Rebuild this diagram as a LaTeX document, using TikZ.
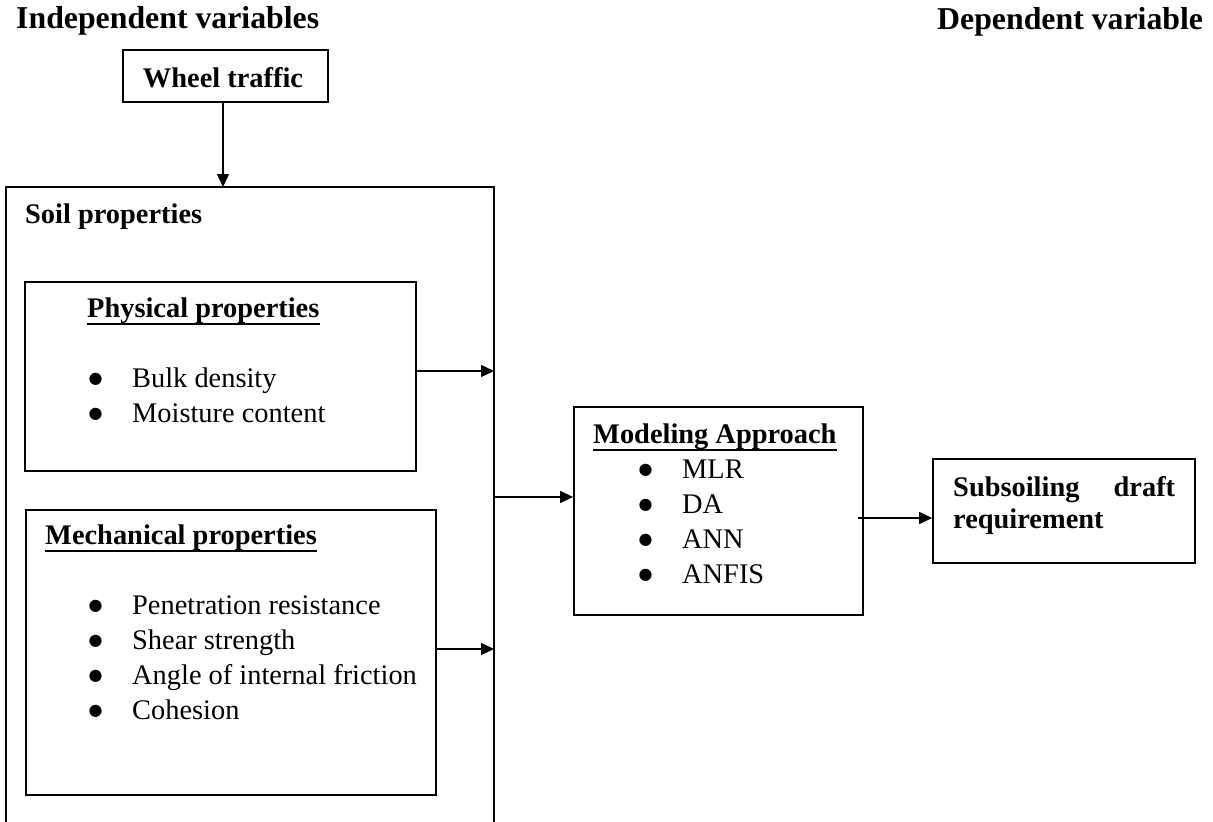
\documentclass[tikz,border=0pt]{standalone}
\usepackage{fontspec}
\setmainfont{Liberation Serif}
\newfontfamily\dotfont{DejaVu Sans}
\usetikzlibrary{arrows.meta}
% one unit = one pixel of the final image, y grows downwards
\newcommand{\bul}{\makebox[44pt][l]{\hspace{0.5pt}\raisebox{4pt}{\dotfont\fontsize{16}{16}\selectfont ●}}}
\begin{document}
\begin{tikzpicture}[x=1pt,y=-1pt,
  box/.style={draw, line width=1.8pt, inner sep=0pt},
  arr/.style={line width=1.3pt, -{Triangle[length=13pt,width=12pt]}},
  txt/.style={inner sep=0pt, anchor=base west, font=\fontsize{28.4}{35.3}\selectfont},
  hdr/.style={txt, font=\fontsize{28.4}{35.3}\selectfont\bfseries},
  ttl/.style={inner sep=0pt, anchor=base west, font=\fontsize{31.8}{38}\selectfont\bfseries},
  uline/.style={line width=1.6pt}]
\useasboundingbox (0,0) rectangle (1213,822);
\fill[white] (0,0) rectangle (1213,822);

% column titles
\node[ttl] (indep) at (16,28) {Independent variables};
\node[ttl] (dep) at (937,29) {Dependent variable};

% wheel traffic
\node[box, minimum width=205pt, minimum height=52pt] (wheel) at (225.5,76) {};
\node[hdr, anchor=base] (wheelT) at (223,87) {Wheel traffic};

% soil properties frame (runs off the bottom edge)
\coordinate (soilNW) at (6,187);
\coordinate (soilNE) at (494,187);
\coordinate (bot) at (0,835);
\draw[line width=1.8pt] (soilNW |- bot) -- (soilNW) -- (soilNE) -- (soilNE |- bot);
\node[hdr] (soilT) at (25,223) {Soil properties};

% physical properties
\node[box, minimum width=391pt, minimum height=189pt] (phys) at (220.5,376.5) {};
\node[hdr] (physT) at (87,317) {Physical properties};
\draw[uline] ([yshift=-7pt]physT.base west) -- ([yshift=-7pt]physT.base east);
\node[txt] (physL) at (88,387) {\begin{tabular}[t]{@{}l@{}}
  \bul Bulk density\\
  \bul Moisture content
\end{tabular}};

% mechanical properties
\node[box, minimum width=410pt, minimum height=285pt] (mech) at (231,652.5) {};
\node[hdr] (mechT) at (45,544) {Mechanical properties};
\draw[uline] ([yshift=-7pt]mechT.base west) -- ([yshift=-7pt]mechT.base east);
\node[txt] (mechL) at (88,614) {\begin{tabular}[t]{@{}l@{}}
  \bul Penetration resistance\\
  \bul Shear strength\\
  \bul Angle of internal friction\\
  \bul Cohesion
\end{tabular}};

% modeling approach
\node[box, minimum width=289pt, minimum height=208pt] (model) at (718.5,511) {};
\node[hdr] (modelT) at (593,443) {Modeling Approach};
\draw[uline] ([yshift=-7pt]modelT.base west) -- ([yshift=-7pt]modelT.base east);
\node[txt] (modelL) at (638,478) {\begin{tabular}[t]{@{}l@{}}
  \bul MLR\\
  \bul DA\\
  \bul ANN\\
  \bul ANFIS
\end{tabular}};

% output
\node[box, minimum width=262pt, minimum height=104pt] (sub) at (1064,511) {};
\node[hdr] (subT1) at (953,496) {\makebox[222pt][s]{Subsoiling draft}};
\node[hdr] (subT2) at (953,528) {requirement};

% connectors
\draw[arr] ([xshift=-2.5pt]wheel.south) -- ([xshift=-2.5pt]wheel.south |- soilNW);
\draw[arr] ([yshift=5.5pt]phys.east) -- ([yshift=5.5pt]phys.east -| soilNE);
\draw[arr] ([yshift=3.5pt]mech.east) -- ([yshift=3.5pt]mech.east -| soilNE);
\coordinate (mIn) at ([yshift=14pt]model.west);
\draw[arr] (mIn -| soilNE) -- (mIn);
\coordinate (sIn) at ([yshift=-7pt]sub.west);
\draw[arr] ([xshift=-6pt]model.east |- sIn) -- (sIn);
\end{tikzpicture}
\end{document}
